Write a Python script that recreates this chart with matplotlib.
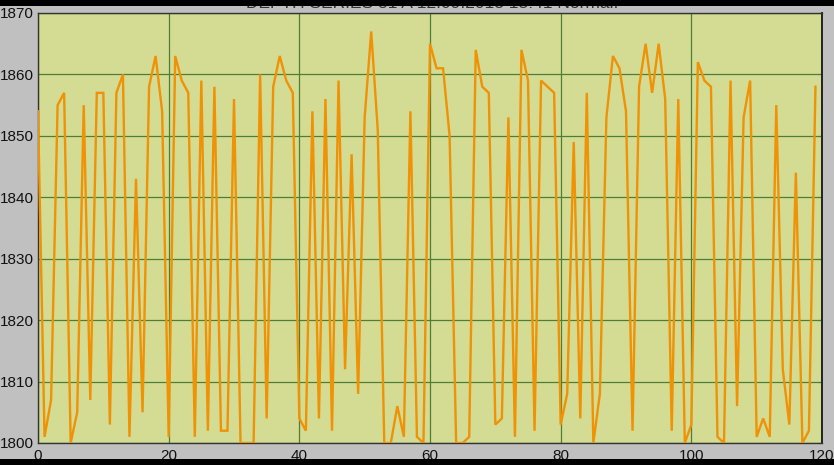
import matplotlib
matplotlib.use("Agg")
import matplotlib.pyplot as plt
from matplotlib.patches import Rectangle

plt.rcParams['font.family'] = ['Liberation Sans', 'DejaVu Sans']

# Sample readings, one per index
readings = [
    1854, 1801, 1807, 1855, 1857, 1800, 1805, 1855, 1807, 1857,
    1857, 1803, 1857, 1860, 1801, 1843, 1805, 1858, 1863, 1854,
    1801, 1863, 1859, 1857, 1801, 1859, 1802, 1858, 1802, 1802,
    1856, 1800, 1800, 1800, 1860, 1804, 1858, 1863, 1859, 1857,
    1804, 1802, 1854, 1804, 1856, 1802, 1859, 1812, 1847, 1808,
    1853, 1867, 1851, 1800, 1800, 1806, 1801, 1854, 1801, 1800,
    1865, 1861, 1861, 1850, 1800, 1800, 1801, 1864, 1858, 1857,
    1803, 1804, 1853, 1801, 1864, 1859, 1802, 1859, 1858, 1857,
    1803, 1808, 1849, 1804, 1857, 1800, 1808, 1853, 1863, 1861,
    1854, 1802, 1858, 1865, 1857, 1865, 1856, 1802, 1856, 1800,
    1803, 1862, 1859, 1858, 1801, 1800, 1859, 1806, 1853, 1859,
    1801, 1804, 1801, 1855, 1812, 1803, 1844, 1800, 1802, 1858,
]
sample_index = list(range(len(readings)))

x_ticks = [0, 20, 40, 60, 80, 100, 120]
y_ticks = [1800, 1810, 1820, 1830, 1840, 1850, 1860, 1870]
title_text = "DEPTH SERIES 31 A 12.09.2013 15:41 Normal."

W, H = 834, 465
fig = plt.figure(figsize=(W / 100, H / 100), dpi=100, facecolor='#c0c0c0')

ax = fig.add_axes([38 / W, (H - 443) / H, 784 / W, 430 / H])
ax.set_facecolor('#d4dc94')

ax.plot(sample_index, readings, color='#ef9206', linewidth=1.7,
        solid_joinstyle='miter', zorder=3)

ax.set_xlim(0, 120)
ax.set_ylim(1800, 1870)
ax.set_xticks(x_ticks)
ax.set_yticks(y_ticks)
ax.grid(True, color='#4f7d33', linewidth=0.9)
ax.set_axisbelow(True)

ax.tick_params(axis='both', which='both', length=0, labelsize=11,
               labelcolor='#111111')
ax.tick_params(axis='x', pad=4)
ax.tick_params(axis='y', pad=3, right=True, direction='in', length=3,
               color='#4f7d33', left=False)

for side, spine in ax.spines.items():
    spine.set_color('#333333')
    spine.set_linewidth(1.0)
ax.spines['right'].set_linewidth(1.4)
ax.spines['right'].set_color('#222222')

# Title mostly hidden beneath the top band
fig.text(432 / W, 1 - 8.5 / H, title_text, ha='center', va='baseline',
         fontsize=12.5, color='#333333', zorder=3)

# Black bands along top and bottom edges
fig.add_artist(Rectangle((0, 1 - 6.5 / H), 1, 6.5 / H, transform=fig.transFigure,
                         facecolor='black', edgecolor='none', zorder=10))
fig.add_artist(Rectangle((0, 0), 1, 6.5 / H, transform=fig.transFigure,
                         facecolor='black', edgecolor='none', zorder=10))

fig.savefig('out.png', dpi=100, facecolor=fig.get_facecolor())
